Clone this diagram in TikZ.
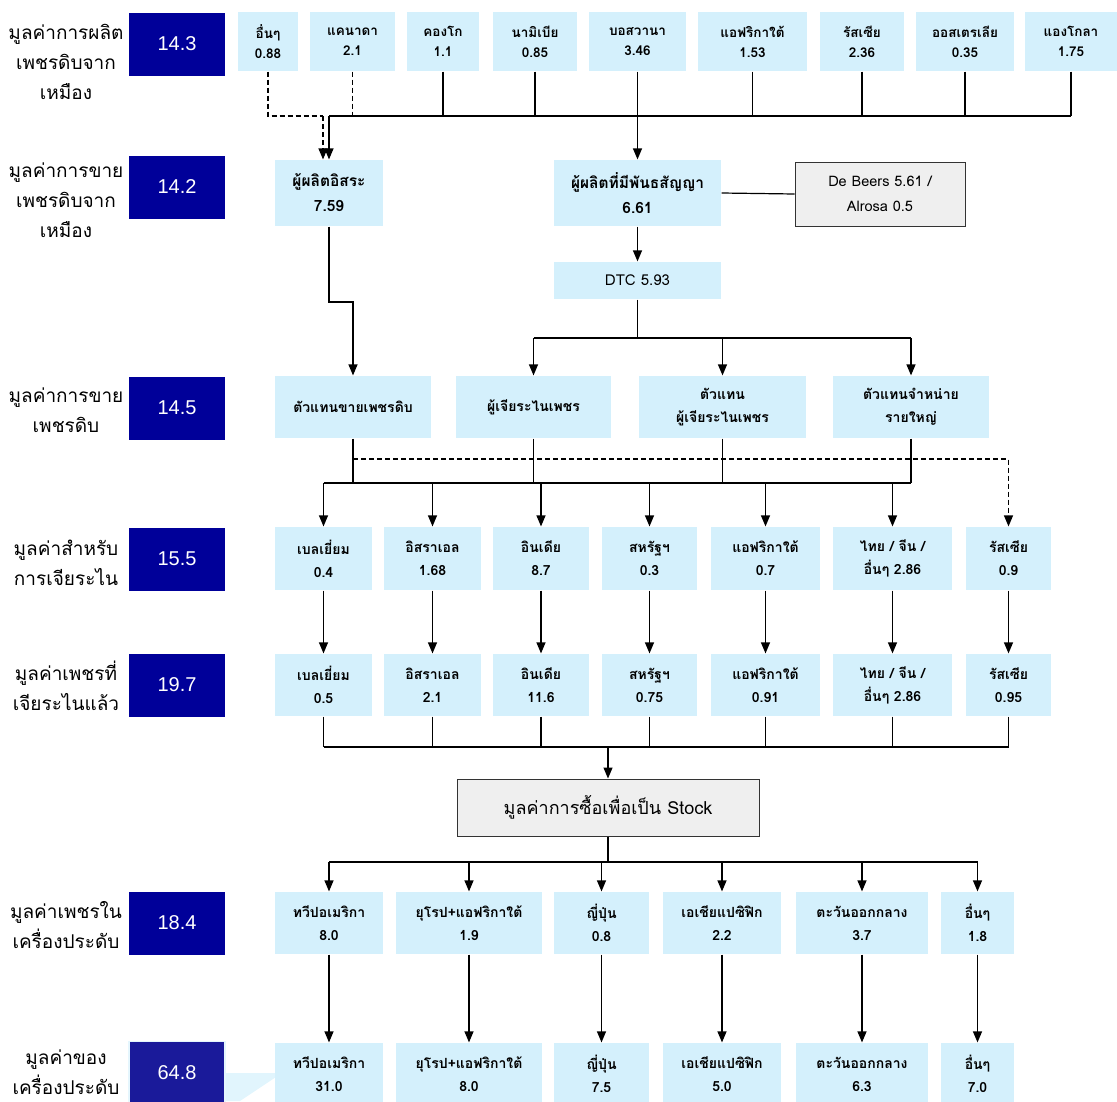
\documentclass[tikz,border=0pt]{standalone}
\usepackage{fontspec}
\newfontfamily\thai[Script=Thai]{Loma}
\newfontfamily\numfont{Liberation Sans}
\usetikzlibrary{arrows.meta}
\definecolor{cellblue}{HTML}{D4F0FC}
\definecolor{navy}{HTML}{000099}
\definecolor{navylast}{HTML}{1A1A9A}
\definecolor{boxgrey}{HTML}{EFEFEF}

\begin{document}
\begin{tikzpicture}[x=1pt,y=-1pt,line width=1.2pt,
  cell/.style={fill=cellblue,inner sep=0pt,align=center,minimum height=60pt,
    font=\thai\bfseries\fontsize{14}{23}\selectfont},
  top/.style={cell,minimum height=59pt,font=\thai\bfseries\fontsize{13.5}{20}\selectfont},
  val/.style={fill=navy,text=white,inner sep=0pt,minimum width=96pt,minimum height=63pt,
    font=\numfont\fontsize{20}{24}\selectfont},
  lbl/.style={align=center,inner sep=0pt,font=\thai\fontsize{19}{30}\selectfont},
  grey/.style={fill=boxgrey,draw=black!80,line width=1pt,inner sep=0pt,align=center},
  arr/.style={-{Triangle[length=11pt,width=9pt]}},
  dashline/.style={dash pattern=on 5pt off 3pt}]
\useasboundingbox (0,0) rectangle (1117,1101);

% left labels and totals
\node[lbl] (l1) at (66,62) {มูลค่าการผลิต\\เพชรดิบจาก\\เหมือง};
\node[lbl] (l2) at (66,200) {มูลค่าการขาย\\เพชรดิบจาก\\เหมือง};
\node[lbl] (l3) at (66,410) {มูลค่าการขาย\\เพชรดิบ};
\node[lbl] (l4) at (66,563) {มูลค่าสำหรับ\\การเจียระไน};
\node[lbl] (l5) at (66,686) {มูลค่าเพชรที่\\เจียระไนแล้ว};
\node[lbl] (l6) at (66,925) {มูลค่าเพชรใน\\เครื่องประดับ};
\node[lbl] (l7) at (66,1072) {มูลค่าของ\\เครื่องประดับ};
\node[val] (v1) at (177,44) {14.3};
\node[val] (v2) at (177,187) {14.2};
\node[val] (v3) at (177,408) {14.5};
\node[val] (v4) at (177,559) {15.5};
\node[val] (v5) at (177,685) {19.7};
\node[val] (v6) at (177,923) {18.4};
\fill[cellblue!70] (225,1073) -- (282,1073) -- (240,1101) -- (225,1101) -- cycle;
\node[val,fill=navylast,draw=cellblue!60,line width=1.5pt] (v7) at (177,1073) {64.8};

% producers
\node[top,minimum width=60pt] (p1) at (268,41.5) {อื่นๆ\\0.88};
\node[top,minimum width=85pt] (p2) at (352.5,41.5) {แคนาดา\\2.1};
\node[top,minimum width=72pt] (p3) at (443,41.5) {คองโก\\1.1};
\node[top,minimum width=84pt] (p4) at (535,41.5) {นามิเบีย\\0.85};
\node[top,minimum width=97pt] (p5) at (637.5,41.5) {บอสวานา\\3.46};
\node[top,minimum width=109pt] (p6) at (752.5,41.5) {แอฟริกาใต้\\1.53};
\node[top,minimum width=84pt] (p7) at (862,41.5) {รัสเซีย\\2.36};
\node[top,minimum width=98pt] (p8) at (965,41.5) {ออสเตรเลีย\\0.35};
\node[top,minimum width=92pt] (p9) at (1071,41.5) {แองโกลา\\1.75};

\node[cell,minimum width=108pt,minimum height=66pt,font=\thai\bfseries\fontsize{15.5}{25}\selectfont] (indep) at (329,193) {ผู้ผลิตอิสระ\\7.59};
\node[cell,minimum width=167pt,minimum height=66pt,font=\thai\bfseries\fontsize{15.5}{25}\selectfont] (contract) at (637.5,193) {ผู้ผลิตที่มีพันธสัญญา\\6.61};
\node[grey,minimum width=170pt,minimum height=64pt,font=\thai\fontsize{14.5}{25}\selectfont] (debeers) at (880,194) {De Beers 5.61 /\\Alrosa 0.5};
\node[cell,minimum width=167pt,minimum height=37pt,font=\thai\fontsize{15}{17}\selectfont] (dtc) at (637.5,280.5) {DTC 5.93};

% rough sales
\node[cell,minimum width=156pt,minimum height=62pt] (s1) at (353,407) {ตัวแทนขายเพชรดิบ};
\node[cell,minimum width=155pt,minimum height=62pt] (s2) at (533.5,407) {ผู้เจียระไนเพชร};
\node[cell,minimum width=167pt,minimum height=62pt] (s3) at (722.5,407) {ตัวแทน\\ผู้เจียระไนเพชร};
\node[cell,minimum width=156pt,minimum height=62pt] (s4) at (911,407) {ตัวแทนจำหน่าย\\รายใหญ่};

% cutting centres
\node[cell,minimum width=97pt,minimum height=63pt] (c1) at (323.5,558.5) {เบลเยี่ยม\\0.4};
\node[cell,minimum width=97pt,minimum height=63pt] (c2) at (432.5,558.5) {อิสราเอล\\1.68};
\node[cell,minimum width=96pt,minimum height=63pt] (c3) at (541,558.5) {อินเดีย\\8.7};
\node[cell,minimum width=95pt,minimum height=63pt] (c4) at (649.5,558.5) {สหรัฐฯ\\0.3};
\node[cell,minimum width=109pt,minimum height=63pt] (c5) at (765.5,558.5) {แอฟริกาใต้\\0.7};
\node[cell,minimum width=119pt,minimum height=63pt] (c6) at (892.5,558.5) {ไทย / จีน /\\อื่นๆ 2.86};
\node[cell,minimum width=85pt,minimum height=63pt] (c7) at (1008.5,558.5) {รัสเซีย\\0.9};

\node[cell,minimum width=97pt,minimum height=62pt] (d1) at (323.5,685) {เบลเยี่ยม\\0.5};
\node[cell,minimum width=97pt,minimum height=62pt] (d2) at (432.5,685) {อิสราเอล\\2.1};
\node[cell,minimum width=96pt,minimum height=62pt] (d3) at (541,685) {อินเดีย\\11.6};
\node[cell,minimum width=95pt,minimum height=62pt] (d4) at (649.5,685) {สหรัฐฯ\\0.75};
\node[cell,minimum width=109pt,minimum height=62pt] (d5) at (765.5,685) {แอฟริกาใต้\\0.91};
\node[cell,minimum width=119pt,minimum height=62pt] (d6) at (892.5,685) {ไทย / จีน /\\อื่นๆ 2.86};
\node[cell,minimum width=85pt,minimum height=62pt] (d7) at (1008.5,685) {รัสเซีย\\0.95};

\node[grey,minimum width=302pt,minimum height=57pt,font=\thai\fontsize{18}{20}\selectfont] (stock) at (608,807.5) {มูลค่าการซื้อเพื่อเป็น Stock};

% jewellery
\node[cell,minimum width=108pt,minimum height=62pt] (j1) at (329,923) {ทวีปอเมริกา\\8.0};
\node[cell,minimum width=146pt,minimum height=62pt] (j2) at (469,923) {ยุโรป+แอฟริกาใต้\\1.9};
\node[cell,minimum width=95pt,minimum height=62pt] (j3) at (601.5,923) {ญี่ปุ่น\\0.8};
\node[cell,minimum width=118pt,minimum height=62pt] (j4) at (722,923) {เอเชียแปซิฟิก\\2.2};
\node[cell,minimum width=132pt,minimum height=62pt] (j5) at (862,923) {ตะวันออกกลาง\\3.7};
\node[cell,minimum width=73pt,minimum height=62pt] (j6) at (977.5,923) {อื่นๆ\\1.8};

\node[cell,minimum width=108pt,minimum height=62pt] (k1) at (329,1074) {ทวีปอเมริกา\\31.0};
\node[cell,minimum width=146pt,minimum height=62pt] (k2) at (469,1074) {ยุโรป+แอฟริกาใต้\\8.0};
\node[cell,minimum width=95pt,minimum height=62pt] (k3) at (601.5,1074) {ญี่ปุ่น\\7.5};
\node[cell,minimum width=118pt,minimum height=62pt] (k4) at (722,1074) {เอเชียแปซิฟิก\\5.0};
\node[cell,minimum width=132pt,minimum height=62pt] (k5) at (862,1074) {ตะวันออกกลาง\\6.3};
\node[cell,minimum width=73pt,minimum height=62pt] (k6) at (977.5,1074) {อื่นๆ\\7.0};

\coordinate (bus1) at (0,116);
\coordinate (step) at (0,302);
\coordinate (bus2) at (0,338);
\coordinate (dash3) at (0,459);
\coordinate (bus3) at (0,483);
\coordinate (bus5) at (0,747);
\coordinate (bus6) at (0,862);

% mines to sellers
\draw[dashline] (p1.south) |- ([xshift=-6pt]indep.north |- bus1);
\draw[dashline,arr] ([xshift=-6pt]indep.north |- bus1) -- ([xshift=-6pt]indep.north);
\draw[dashline] (p2.south) -- (p2.south |- bus1);
\foreach \i in {3,...,9}
  \draw (p\i.south) -- (p\i.south |- bus1);
\draw (indep.north |- bus1) -- (p9.south |- bus1);
\draw[arr] (indep.north |- bus1) -- (indep.north);
\draw[arr] (contract.north |- bus1) -- (contract.north);
\draw (contract.east) -- (debeers.west);
\draw[arr] (contract) -- (dtc);

% sellers to rough sales
\draw[arr] (indep.south) -- (indep.south |- step) -| (s1.north);
\draw (dtc.south) -- (dtc.south |- bus2);
\draw (s2.north |- bus2) -- (s4.north |- bus2);
\foreach \i in {2,3,4}
  \draw[arr] (s\i.north |- bus2) -- (s\i.north);

% rough sales to cutting
\foreach \i in {1,...,4}
  \draw (s\i.south) -- (s\i.south |- bus3);
\draw (c1.north |- bus3) -- (s4.south |- bus3);
\foreach \i in {1,...,6}
  \draw[arr] (c\i.north |- bus3) -- (c\i.north);
\draw[dashline,arr] (s1.south |- dash3) -| (c7.north);
\foreach \i in {1,...,7}
  \draw[arr] (c\i) -- (d\i);

% polished to stock
\foreach \i in {1,...,7}
  \draw (d\i.south) -- (d\i.south |- bus5);
\draw (d1.south |- bus5) -- (d7.south |- bus5);
\draw[arr] (stock.north |- bus5) -- (stock.north);

% stock to jewellery
\draw (stock.south) -- (stock.south |- bus6);
\draw (j1.north |- bus6) -- (j6.north |- bus6);
\foreach \i in {1,...,6}{
  \draw[arr] (j\i.north |- bus6) -- (j\i.north);
  \draw[arr] (j\i) -- (k\i);
}
\end{tikzpicture}
\end{document}
